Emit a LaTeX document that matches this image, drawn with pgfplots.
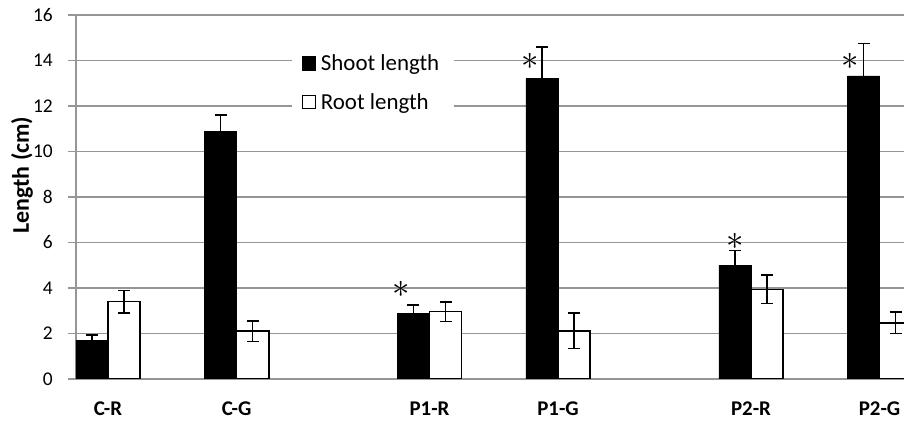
\documentclass[border=0pt]{standalone}
\usepackage{fontspec}
\setmainfont{Carlito}
\usepackage{pgfplots}
\pgfplotsset{compat=1.18}

\definecolor{gridgray}{RGB}{150,150,150}

\begin{document}
\begin{tikzpicture}
\begin{axis}[
  x=128.6bp, y=22.75bp,
  xmin=-0.249, xmax=6.19, ymin=0, ymax=16,
  ybar, bar width=0.25,
  axis x line*=bottom, axis y line*=left,
  axis line style={gridgray, line width=1.5bp},
  ytick={0,2,...,16},
  ymajorgrids, grid style={gridgray, line width=1.5bp},
  ytick align=outside, xtick align=inside, major tick length=8bp,
  y tick style={gridgray, line width=1.5bp},
  x tick style={draw=none},
  xtick={0,1,2.5,3.5,5,6},
  xticklabels={C-R,C-G,P1-R,P1-G,P2-R,P2-G},
  xticklabel style={font=\fontsize{21}{24}\selectfont\bfseries, anchor=north, inner sep=0pt, yshift=-23bp},
  yticklabel style={font=\fontsize{19.5}{22}\selectfont, anchor=east, inner sep=0pt, xshift=-15bp},
  /pgf/number format/assume math mode=true,
  ylabel={Length (cm)},
  every axis y label/.style={at={(rel axis cs:-0.0652,0.56)}, rotate=90, anchor=center, font=\fontsize{24}{26}\selectfont\bfseries},
  legend style={at={(rel axis cs:0.3587,0.814)}, anchor=center, draw=none, fill=white,
    inner xsep=10bp, inner ysep=10bp, row sep=17bp, font=\fontsize{23}{26}\selectfont,
    nodes={inner xsep=5bp}},
  legend cell align=left,
  legend image code/.code={\draw[#1, line width=1.2bp] (0bp,-6.5bp) rectangle (13bp,6.5bp);},
  error bars/error bar style={black, line width=1.5bp},
  error bars/error mark options={rotate=90, mark size=6bp, line width=1.5bp, black},
]
% Shoot length
\addplot[fill=black, draw=black, bar shift=-0.125,
  error bars/.cd, y dir=both, y explicit]
  coordinates {
    (0,1.71) +- (0,0.22)
    (1,10.9) +- (0,0.7)
    (2.5,2.89) +- (0,0.36)
    (3.5,13.2) +- (0,1.4)
    (5,5.01) +- (0,0.63)
    (6,13.32) +- (0,1.43)
  };
% Root length
\addplot[fill=white, draw=black, line width=1.5bp, bar shift=0.125,
  error bars/.cd, y dir=both, y explicit]
  coordinates {
    (0,3.4) +- (0,0.5)
    (1,2.1) +- (0,0.45)
    (2.5,2.96) +- (0,0.43)
    (3.5,2.12) +- (0,0.78)
    (5,3.94) +- (0,0.63)
    (6,2.47) +- (0,0.48)
  };
\legend{Shoot length, Root length}
% significance marks
\tikzset{sig/.style={scale=1.4, inner sep=0pt, font=\fontsize{24.88}{25}\selectfont}}
\node[sig] at (axis cs:2.276,3.94) {$\ast$};
\node[sig] at (axis cs:3.282,13.98) {$\ast$};
\node[sig] at (axis cs:4.876,6.03) {$\ast$};
\node[sig] at (axis cs:5.77,13.95) {$\ast$};
\coordinate (bl) at (rel axis cs:0,0);
\coordinate (tr) at (rel axis cs:1,1);
\end{axis}
\pgfresetboundingbox
\path[use as bounding box] ([shift={(-76bp,-44bp)}]bl) rectangle ([shift={(0bp,15bp)}]tr);
\end{tikzpicture}
\end{document}
